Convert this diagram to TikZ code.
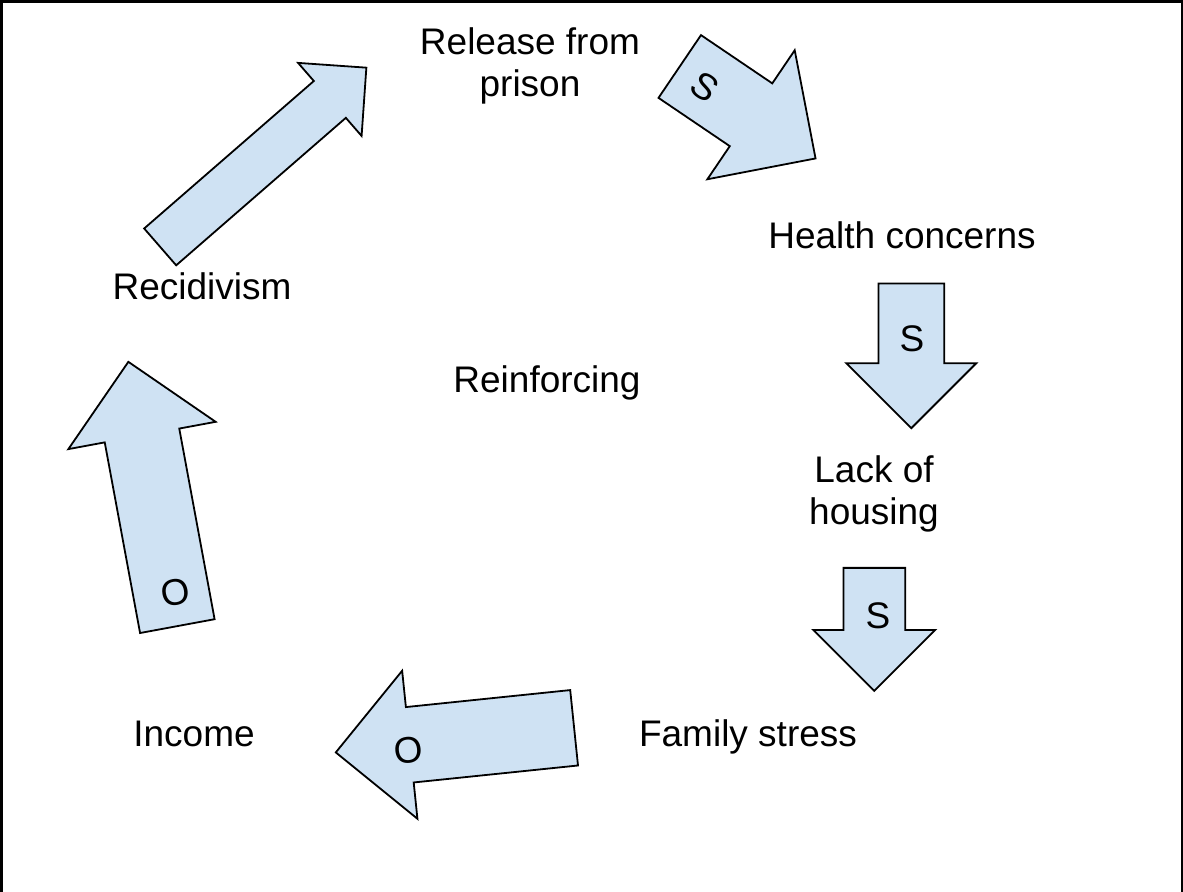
\documentclass[tikz,border=0pt]{standalone}
\usepackage{fontspec}
\setmainfont{Liberation Sans}
\usetikzlibrary{shapes.arrows}
\definecolor{arrowblue}{HTML}{CFE2F3}

\begin{document}
\begin{tikzpicture}[x=0.5pt, y=-0.5pt,
  every node/.style={inner sep=0pt, font=\fontsize{18.5}{21}\selectfont},
  factor/.style={align=center},
  blockarrow/.style={single arrow, draw=black, fill=arrowblue, line width=0.9pt, anchor=tail},
  sign/.style={}]
  \useasboundingbox (0,0) rectangle (1183,892);
  \draw[line width=1.5pt] (1.5,892) -- (1.5,1.5) -- (1182,1.5) -- (1182,892);

  % the loop variables
  \node[factor] (release) at (530,66) {Release from\\prison};
  \node[factor, anchor=base] (health) at (902,249) {Health concerns};
  \node[factor] (housing) at (874,494) {Lack of\\housing};
  \node[factor, anchor=base] (stress) at (748,746) {Family stress};
  \node[factor, anchor=base] (income) at (194,746) {Income};
  \node[factor, anchor=base] (recid) at (202,300) {Recidivism};
  \node[anchor=base] (loop) at (547,393) {Reinforcing};

  % block arrows (placed by their tail, shaft = 2 x inner ysep)
  \node[blockarrow, rotate=-34.1, minimum height=82pt, inner ysep=18.5pt, single arrow head extend=20pt] (a1) at (679,66) {};
  \node[blockarrow, rotate=-90, minimum height=72.3pt, inner ysep=16pt, single arrow head extend=16pt] (a2) at (911.3,282.7) {};
  \node[blockarrow, rotate=-90, minimum height=61.5pt, inner ysep=15pt, single arrow head extend=15pt] (a3) at (874.3,567) {};
  \node[blockarrow, rotate=-174.1, minimum height=119.8pt, inner ysep=18.5pt, single arrow head extend=18.25pt] (a4) at (575,727.7) {};
  \node[blockarrow, rotate=100.5, minimum height=134.4pt, inner ysep=18.5pt, single arrow head extend=18.5pt] (a5) at (177.5,627) {};
  \node[blockarrow, rotate=41, minimum height=136.6pt, inner ysep=11.75pt, single arrow head extend=12pt] (a6) at (159.5,247.5) {};

  % link signs
  \node[sign, rotate=-34.1] (s1) at (705,87) {S};
  \node[sign] (s2) at (912,339) {S};
  \node[sign] (s3) at (878,616) {S};
  \node[sign, rotate=6] (o4) at (408,750.5) {O};
  \node[sign, rotate=10] (o5) at (175,592.5) {O};
\end{tikzpicture}
\end{document}
